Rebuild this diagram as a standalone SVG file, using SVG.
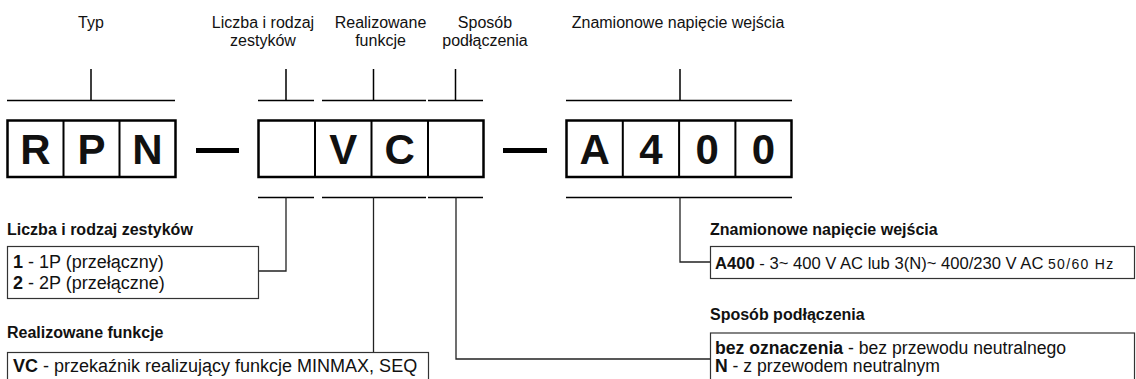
<svg xmlns="http://www.w3.org/2000/svg" width="1136" height="379" viewBox="0 0 1136 379">
<style>
text{font-family:"Liberation Sans",Arial,sans-serif;fill:#111}
.lbl{font-size:16px;text-anchor:middle}
.big{font-size:42px;font-weight:bold;text-anchor:middle}
.ttl{font-size:16px;font-weight:bold}
.txt{font-size:18px}
.b{font-weight:bold}
.cell{fill:#fff;stroke:#000;stroke-width:2.5}
.div{stroke:#000;stroke-width:2}
.bar{stroke:#000;stroke-width:1.5;fill:none}
.con{stroke:#222;stroke-width:1.3;fill:none}
.box{fill:#fff;stroke:#333;stroke-width:1.2}
</style>
<rect width="1136" height="379" fill="#fff"/>
<g id="labels">
<text class="lbl" x="91" y="28">Typ</text>
<text class="lbl" x="263" y="28">Liczba i rodzaj</text>
<text class="lbl" x="263" y="46">zestyków</text>
<text class="lbl" x="380.5" y="28">Realizowane</text>
<text class="lbl" x="380.5" y="46">funkcje</text>
<text class="lbl" x="485" y="28">Sposób</text>
<text class="lbl" x="485" y="46">podłączenia</text>
<text class="lbl" x="678" y="28">Znamionowe napięcie wejścia</text>
</g>
<g id="brackets">
<path class="bar" d="M7 100.5H175M91 69V100.5"/>
<path class="bar" d="M258 100.5H314M286 69V100.5"/>
<path class="bar" d="M322 100.5H426M373.5 69V100.5"/>
<path class="bar" d="M428 100.5H483M455.5 69V100.5"/>
<path class="bar" d="M566 100.5H792M680 69V100.5"/>
<path class="bar" d="M258 197.5H314M322 197.5H426M428 197.5H483M566 197.5H792"/>
</g>
<g id="code-typ">
<rect class="cell" x="7.5" y="120.5" width="168" height="56.5"/>
<path class="div" d="M63.5 120.5V177M119.5 120.5V177"/>
<text class="big" x="35.5" y="164">R</text>
<text class="big" x="91.5" y="164">P</text>
<text class="big" x="147.5" y="164">N</text>
</g>
<rect id="dash1" x="196" y="148" width="43" height="5" fill="#000"/>
<g id="code-mid">
<rect class="cell" x="258.5" y="120.5" width="225" height="56.5"/>
<path class="div" d="M315 120.5V177M371.5 120.5V177M428 120.5V177"/>
<text class="big" x="343.2" y="164">V</text>
<text class="big" x="399.7" y="164">C</text>
</g>
<rect id="dash2" x="503" y="148" width="44" height="5" fill="#000"/>
<g id="code-volt">
<rect class="cell" x="566.5" y="120.5" width="225" height="56.5"/>
<path class="div" d="M622.8 120.5V177M679.1 120.5V177M735.4 120.5V177"/>
<text class="big" x="594.6" y="164">A</text>
<text class="big" x="650.9" y="164">4</text>
<text class="big" x="707.2" y="164">0</text>
<text class="big" x="763.5" y="164">0</text>
</g>
<g id="connectors">
<path class="con" d="M286 197.5V271H258.5"/>
<path class="con" d="M373.5 197.5V352.5"/>
<path class="con" d="M680 197.5V262H710.5"/>
<path class="con" d="M456 197.5V359H710.5"/>
</g>
<g id="node-zestyki">
<text class="ttl" x="7" y="235">Liczba i rodzaj zestyków</text>
<rect class="box" x="7.5" y="246.5" width="251" height="52"/>
<text class="txt" x="13" y="267.5"><tspan class="b">1</tspan> - 1P (przełączny)</text>
<text class="txt" x="13" y="288.5"><tspan class="b">2</tspan> - 2P (przełączne)</text>
</g>
<g id="node-funkcje">
<text class="ttl" x="7" y="338">Realizowane funkcje</text>
<rect class="box" x="7.5" y="352.5" width="421" height="40"/>
<text class="txt" x="13" y="372"><tspan class="b">VC</tspan> - przekaźnik realizujący funkcje MINMAX, SEQ</text>
</g>
<g id="node-napiecie">
<text class="ttl" x="710" y="235">Znamionowe napięcie wejścia</text>
<rect class="box" x="710.5" y="246.5" width="424" height="32"/>
<text class="txt" x="715" y="269" style="font-size:16.6px"><tspan class="b">A400</tspan> - 3~ 400 V AC lub 3(N)~ 400/230 V AC <tspan style="font-size:14px;letter-spacing:1.3px">50/60 Hz</tspan></text>
</g>
<g id="node-podlaczenie">
<text class="ttl" x="710" y="320">Sposób podłączenia</text>
<rect class="box" x="710.5" y="333" width="424" height="60"/>
<text class="txt" x="715" y="354" style="font-size:17.6px"><tspan class="b">bez oznaczenia</tspan> - bez przewodu neutralnego</text>
<text class="txt" x="715" y="372" style="font-size:17.6px"><tspan class="b">N</tspan> - z przewodem neutralnym</text>
</g>
</svg>
